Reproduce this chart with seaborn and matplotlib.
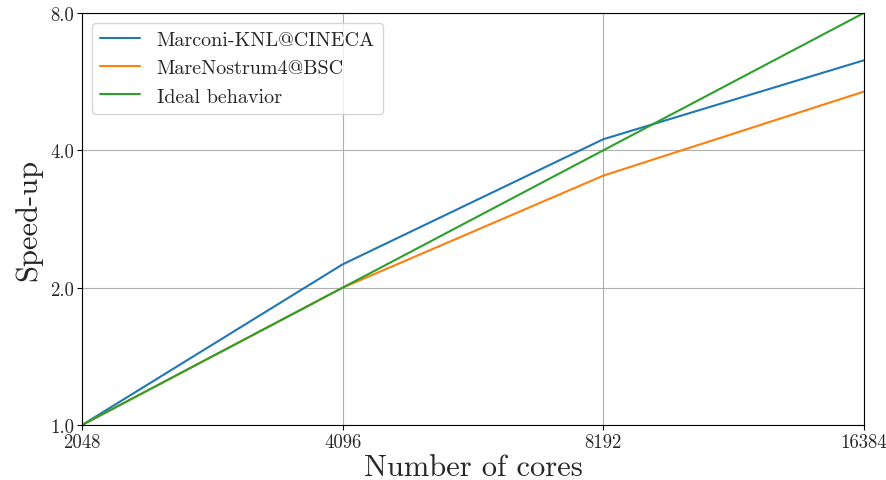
import matplotlib
matplotlib.use("Agg")
import matplotlib.pyplot as plt
from matplotlib.ticker import FixedLocator, FixedFormatter, NullLocator
import seaborn as sns
import pandas as pd

cores = [2048, 4096, 8192, 16384]
marconi = [1.0, 2.25, 4.23, 6.3]
marenostrum = [1.0, 2.0, 3.52, 5.38]
ideal = [1.0, 2.0, 4.0, 8.0]
series_names = ["Marconi-KNL@CINECA", "MareNostrum4@BSC", "Ideal behavior"]
yticks = [1.0, 2.0, 4.0, 8.0]
ytick_labels = ["1.0", "2.0", "4.0", "8.0"]

sns.set_theme(style="white")
plt.rcParams["font.family"] = ["cmr10", "DejaVu Serif"]
plt.rcParams["axes.formatter.use_mathtext"] = True
plt.rcParams["mathtext.fontset"] = "cm"

df = pd.DataFrame({
    "cores": cores * 3,
    "speedup": marconi + marenostrum + ideal,
    "series": [n for n in series_names for _ in cores],
})

fig = plt.figure(figsize=(8.87, 4.81), dpi=100)
ax = fig.add_axes([0.0925, 0.1143, 0.8815, 0.8567])

sns.lineplot(data=df, x="cores", y="speedup", hue="series", hue_order=series_names,
             palette=["#1f77b4", "#ff7f0e", "#2ca02c"], linewidth=1.5, ax=ax)

ax.set_xscale("log", base=2)
ax.set_yscale("log", base=2)
ax.set_xlim(2048, 16384)
ax.set_ylim(1.0, 8.0)
ax.xaxis.set_major_locator(FixedLocator(cores))
ax.xaxis.set_major_formatter(FixedFormatter([str(c) for c in cores]))
ax.xaxis.set_minor_locator(NullLocator())
ax.yaxis.set_major_locator(FixedLocator(yticks))
ax.yaxis.set_major_formatter(FixedFormatter(ytick_labels))
ax.yaxis.set_minor_locator(NullLocator())

ax.grid(True, color="#b0b0b0", linewidth=0.8)
for s in ax.spines.values():
    s.set_color("black")
    s.set_linewidth(0.8)
ax.tick_params(axis="both", which="major", labelsize=13.5, length=3.5, width=0.8,
               color="black", bottom=True, left=True, pad=2)

ax.set_xlabel("Number of cores", fontsize=22, labelpad=2)
ax.set_ylabel("Speed-up", fontsize=22, labelpad=6)

leg = ax.legend(loc="upper left", fontsize=14.5, frameon=True, handlelength=2.0)
leg.get_frame().set_edgecolor("#cccccc")
leg.set_title(None)

fig.savefig("out.png", dpi=100)
